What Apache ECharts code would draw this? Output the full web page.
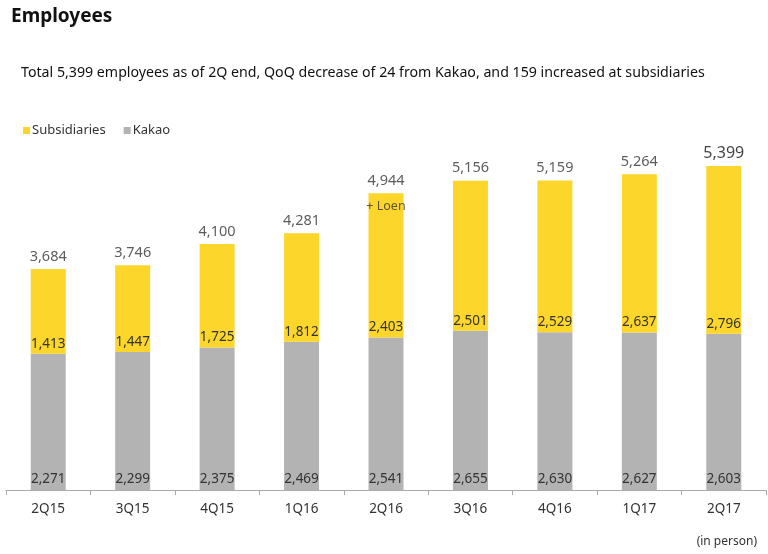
<!DOCTYPE html>
<html><head><meta charset="utf-8">
<script src="https://cdn.jsdelivr.net/npm/echarts@6/dist/echarts.min.js"></script>
<style>html,body{margin:0;padding:0;background:#fff}#c{width:768px;height:554px}</style>
</head><body><div id="c"></div>
<script>
const categories = ['2Q15','3Q15','4Q15','1Q16','2Q16','3Q16','4Q16','1Q17','2Q17'];
const kakao = [2271,2299,2375,2469,2541,2655,2630,2627,2603];
const subsidiaries = [1413,1447,1725,1812,2403,2501,2529,2637,2796];
const totals = [3684,3746,4100,4281,4944,5156,5159,5264,5399];
const noteIndex = 4;
const noteText = '+ Loen';

const FONT = '"Noto Sans", "Open Sans", sans-serif';
const chart = echarts.init(document.getElementById('c'));
const fmt = v => Number(v).toLocaleString('en-US');

chart.setOption({
  animation: false,
  textStyle: { fontFamily: FONT },
  title: [
    { text: 'Employees', left: 6, top: 2, textStyle: { fontFamily: FONT, fontSize: 19, fontWeight: 'bold', color: '#111' } },
    { text: 'Total 5,399 employees as of 2Q end, QoQ decrease of 24 from Kakao, and 159 increased at subsidiaries',
      left: 16, top: 61, textStyle: { fontFamily: FONT, fontSize: 14.2, fontWeight: 'normal', color: '#111' } },
    { text: '(in person)', right: 6, top: 531, textStyle: { fontFamily: FONT, fontSize: 12, fontWeight: 'normal', color: '#333' } }
  ],
  legend: {
    left: 18, top: 119, itemWidth: 7, itemHeight: 7, itemGap: 18,
    icon: 'rect',
    textStyle: { fontFamily: FONT, fontSize: 13, color: '#333', padding: [0,0,0,-3] },
    data: ['Subsidiaries', 'Kakao']
  },
  grid: { left: 6, right: 2, top: 130, bottom: 64, containLabel: false },
  xAxis: {
    type: 'category', data: categories, boundaryGap: true,
    axisLine: { lineStyle: { color: '#aaa', width: 1 } },
    axisTick: { show: true, interval: 0, length: 5, lineStyle: { color: '#aaa' } },
    axisLabel: { fontFamily: FONT, fontSize: 13.5, color: '#333', margin: 12 }
  },
  yAxis: { type: 'value', min: 0, max: 6000, show: false, splitLine: { show: false } },
  series: [
    { name: 'Kakao', type: 'bar', stack: 'e', data: kakao, barWidth: 35,
      itemStyle: { color: '#B3B3B3' },
      label: { show: true, position: 'insideBottom', distance: 4, fontFamily: FONT, fontSize: 13.5, color: '#333', formatter: p => fmt(p.value) } },
    { name: 'Subsidiaries', type: 'bar', stack: 'e', data: subsidiaries, barWidth: 35,
      itemStyle: { color: '#FDD62B' },
      label: { show: true, position: 'insideBottom', distance: 3, fontFamily: FONT, fontSize: 13.5, color: '#333', formatter: p => fmt(p.value) } },
    { name: 'Total', type: 'scatter', symbolSize: 0, silent: true,
      data: totals.map((v, i) => i === totals.length - 1 ? { value: v, label: { fontSize: 16, color: '#111' } } : v),
      label: { show: true, position: 'top', distance: 5, fontFamily: FONT, fontSize: 14.5, color: '#333', formatter: p => fmt(p.value) } },
    { name: 'Note', type: 'scatter', symbolSize: 0, silent: true,
      data: totals.map((v, i) => i === noteIndex ? v : '-'),
      label: { show: true, position: 'bottom', distance: 7, fontFamily: FONT, fontSize: 12.5, color: '#333', formatter: () => noteText } }
  ]
});
</script></body></html>
